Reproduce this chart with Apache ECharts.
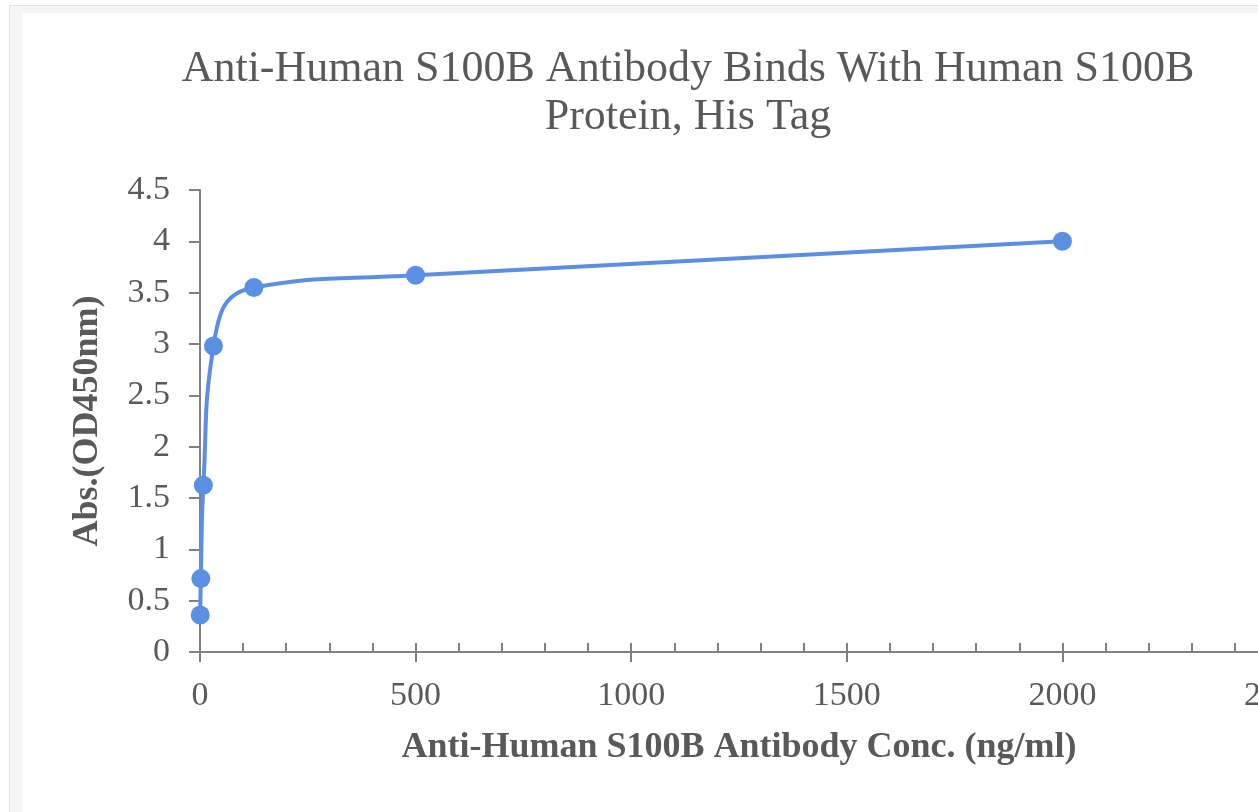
<!DOCTYPE html>
<html>
<head>
<meta charset="utf-8">
<script src="https://cdn.jsdelivr.net/npm/echarts@6/dist/echarts.min.js"></script>
<style>
html,body{margin:0;padding:0;width:1258px;height:812px;overflow:hidden;background:#fff;}
#frame{position:absolute;left:9px;top:5px;width:1400px;height:900px;border:1px solid #e2e4e4;background:#f4f5f5;}
#inner{position:absolute;left:22px;top:13px;width:1400px;height:900px;background:#fff;}
#chart{position:absolute;left:0;top:0;width:1376px;height:812px;}
</style>
</head>
<body>
<div id="frame"></div>
<div id="inner"></div>
<div id="chart"></div>
<script>
const titleLines = ['Anti-Human S100B Antibody Binds With Human S100B', 'Protein, His Tag'];
const xName = 'Anti-Human S100B Antibody Conc. (ng/ml)';
const yName = 'Abs.(OD450nm)';
const concentrations = [0.488, 1.953, 7.8125, 31.25, 125, 500, 2000];
const absorbance = [0.36, 0.715, 1.625, 2.98, 3.55, 3.67, 4.0];
const xTicks = { min: 0, max: 2500, interval: 500 };
const yTicks = { min: 0, max: 4.5, interval: 0.5 };

const textColor = '#595959';
const axisColor = '#808080';
const serif = '"Liberation Serif", "Times New Roman", serif';
const lineColor = '#5B8FE3';

const chart = echarts.init(document.getElementById('chart'), null, { renderer: 'canvas' });
const points = concentrations.map((c, i) => [c, absorbance[i]]);
const plain = v => String(v);

chart.setOption({
  backgroundColor: 'transparent',
  animation: false,
  title: {
    text: titleLines.join('\n'),
    left: 'center',
    top: 40,
    textStyle: { fontFamily: serif, fontSize: 44, fontWeight: 'normal', color: textColor, lineHeight: 48, align: 'center' }
  },
  grid: { left: 200, right: 98, top: 190, bottom: 160, containLabel: false },
  xAxis: [{
    type: 'value',
    min: xTicks.min, max: xTicks.max, interval: xTicks.interval,
    name: xName,
    nameLocation: 'middle',
    nameGap: 78,
    nameTextStyle: { fontFamily: serif, fontSize: 36, fontWeight: 'bold', color: textColor },
    axisLine: { show: true, lineStyle: { color: axisColor, width: 2 } },
    axisTick: { show: true, inside: true, length: 9, lineStyle: { color: axisColor, width: 2 } },
    minorTick: { show: true, splitNumber: 5, length: 9, lineStyle: { color: axisColor, width: 2 } },
    splitLine: { show: false },
    axisLabel: { margin: 27, fontFamily: serif, fontSize: 34, color: textColor, formatter: plain }
  }, {
    type: 'value', position: 'bottom', offset: 0,
    min: xTicks.min, max: xTicks.max, interval: xTicks.interval,
    axisLine: { show: false },
    axisTick: { show: true, inside: false, length: 10, lineStyle: { color: axisColor, width: 2 } },
    axisLabel: { show: false },
    splitLine: { show: false }
  }],
  yAxis: {
    type: 'value',
    min: yTicks.min, max: yTicks.max, interval: yTicks.interval,
    name: yName,
    nameLocation: 'middle',
    nameGap: 94,
    nameTextStyle: { fontFamily: serif, fontSize: 36, fontWeight: 'bold', color: textColor },
    axisLine: { show: true, lineStyle: { color: axisColor, width: 2 } },
    axisTick: { show: true, inside: false, length: 11, lineStyle: { color: axisColor, width: 2 } },
    splitLine: { show: false },
    axisLabel: { margin: 30, fontFamily: serif, fontSize: 34, color: textColor, formatter: plain }
  },
  series: [{
    type: 'line',
    xAxisIndex: 0,
    data: points,
    smooth: 0.5,
    symbol: 'circle',
    symbolSize: 19,
    itemStyle: { color: lineColor },
    lineStyle: { color: lineColor, width: 4 }
  }]
});
</script>
</body>
</html>
